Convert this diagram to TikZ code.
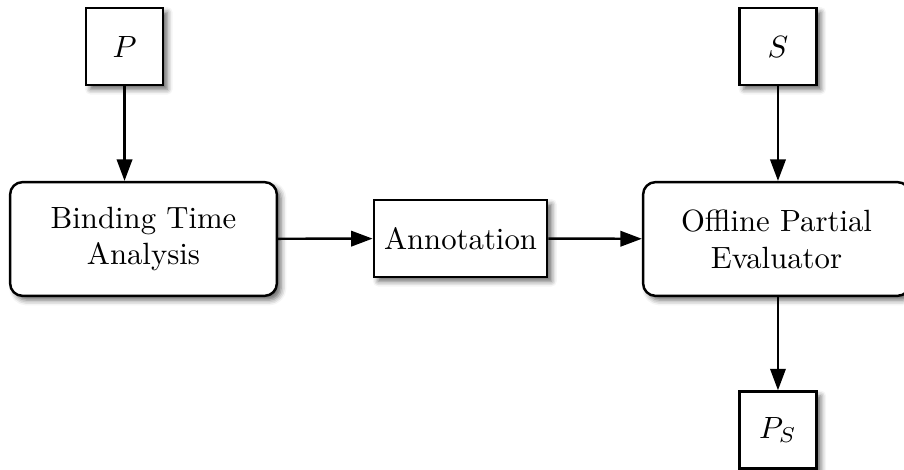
\documentclass[tikz,border=0pt]{standalone}
\usepackage{amsmath, amssymb}
\usepackage{tikz}
\usetikzlibrary{positioning, arrows.meta, calc, shadows.blur}

\begin{document}
\begin{tikzpicture}[
        databox/.style={draw, thick, fill=white, minimum width=0.88cm,
              minimum height=0.88cm, blur shadow={shadow xshift=1.4pt,
              shadow yshift=-1.4pt, shadow blur steps=4, shadow opacity=60}},
        stagebox/.style={draw, thick, fill=white, rounded corners,
              minimum width=3.05cm, minimum height=1.30cm, align=center,
              blur shadow={shadow xshift=1.4pt, shadow yshift=-1.4pt,
              shadow blur steps=4, shadow opacity=60}},
        flow/.style={-{Triangle[length=7pt, width=5pt]}, thick}]
        \useasboundingbox (0,0) rectangle (10.337,-5.374);
        \node[databox] (prog) at (1.424,-0.532) {$P$};
        \node[stagebox] (bta) at (1.641,-2.733) {Binding Time\\Analysis};
        \node[databox, minimum width=1.98cm] (annot)
              at (5.266,-2.727) {Annotation};
        \node[stagebox] (ope) at (8.879,-2.733) {Offline Partial\\Evaluator};
        \node[databox] (static) at (8.896,-0.532) {$S$};
        \node[databox] (resid) at (8.896,-4.917) {$P_S$};
        \draw[flow] (prog) -- (prog |- bta.north);
        \draw[flow] (bta) -- (annot);
        \draw[flow] (annot) -- (ope);
        \draw[flow] (static) -- (static |- ope.north);
        \draw[flow] (ope.south -| resid) -- (resid);
      \end{tikzpicture}
\end{document}
